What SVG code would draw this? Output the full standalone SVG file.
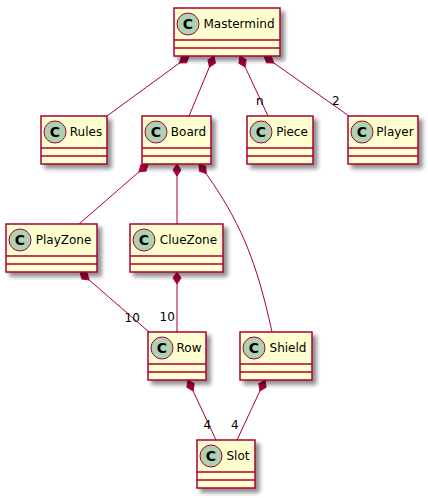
<svg xmlns="http://www.w3.org/2000/svg" width="428" height="498" viewBox="0 0 428 498">
<style>
.box{fill:#FEFECE;stroke:#A80036;stroke-width:1.5;filter:url(#sh)}
.div{stroke:#A80036;stroke-width:1.5}
.circ{fill:#ADD1B2;stroke:#A80036;stroke-width:1}
.cg{font-family:"DejaVu Sans",sans-serif;font-size:14px;font-weight:bold;fill:#000;text-anchor:middle}
.name{font-family:"DejaVu Sans",sans-serif;font-size:12px;fill:#000;text-anchor:middle}
.edge{fill:none;stroke:#A80036;stroke-width:1;marker-start:url(#comp)}
.lbl{font-family:"DejaVu Sans",sans-serif;font-size:12px;fill:#000}
</style>
<defs>
<filter id="sh" x="-20%" y="-20%" width="150%" height="160%">
<feGaussianBlur in="SourceAlpha" stdDeviation="2"/>
<feOffset dx="4" dy="4" result="b"/>
<feComponentTransfer><feFuncA type="linear" slope="0.45"/></feComponentTransfer>
<feMerge><feMergeNode/><feMergeNode in="SourceGraphic"/></feMerge>
</filter>
<marker id="comp" markerUnits="userSpaceOnUse" markerWidth="14" markerHeight="10" viewBox="0 0 14 10" refX="0" refY="5" orient="auto" overflow="visible">
<path d="M0,5 L6,1 L12,5 L6,9 Z" fill="#A80036" stroke="#A80036" stroke-width="1"/>
</marker>
</defs>
<rect width="428" height="498" fill="#FFFFFF"/>

<g id="connectors">
<path class="edge" d="M189,56 L107,116"/>
<path class="edge" d="M214,56 L189,116"/>
<path class="edge" d="M240,56 L268,116"/>
<path class="edge" d="M264,56 L349,116"/>
<path class="edge" d="M148,164 L79,224"/>
<path class="edge" d="M177,164 L177,224"/>
<path class="edge" d="M199,164 C241,220 257,263 272,332"/>
<path class="edge" d="M80,272 L149,332"/>
<path class="edge" d="M177,272 L177,332"/>
<path class="edge" d="M188,380 L216,440"/>
<path class="edge" d="M265,380 L237,440"/>
<text class="lbl" x="256" y="105">n</text>
<text class="lbl" x="332" y="105">2</text>
<text class="lbl" x="124.5" y="322">10</text>
<text class="lbl" x="159.5" y="321">10</text>
<text class="lbl" x="203.5" y="429">4</text>
<text class="lbl" x="231" y="429">4</text>
</g>

<g id="Mastermind">
<rect class="box" x="174" y="8" width="106" height="48"/>
<circle class="circ" cx="188" cy="24" r="11"/>
<text class="cg" x="188" y="29">C</text>
<text class="name" x="239" y="28.2">Mastermind</text>
<line class="div" x1="174" y1="40" x2="280" y2="40"/>
<line class="div" x1="174" y1="48" x2="280" y2="48"/>
</g>

<g id="Rules">
<rect class="box" x="41" y="116" width="66" height="48"/>
<circle class="circ" cx="55" cy="132" r="11"/>
<text class="cg" x="55" y="137">C</text>
<text class="name" x="86" y="136.2">Rules</text>
<line class="div" x1="41" y1="148" x2="107" y2="148"/>
<line class="div" x1="41" y1="156" x2="107" y2="156"/>
</g>

<g id="Board">
<rect class="box" x="142" y="116" width="69" height="48"/>
<circle class="circ" cx="156" cy="132" r="11"/>
<text class="cg" x="156" y="137">C</text>
<text class="name" x="188.5" y="136.2">Board</text>
<line class="div" x1="142" y1="148" x2="211" y2="148"/>
<line class="div" x1="142" y1="156" x2="211" y2="156"/>
</g>

<g id="Piece">
<rect class="box" x="247" y="116" width="66" height="48"/>
<circle class="circ" cx="261" cy="132" r="11"/>
<text class="cg" x="261" y="137">C</text>
<text class="name" x="292" y="136.2">Piece</text>
<line class="div" x1="247" y1="148" x2="313" y2="148"/>
<line class="div" x1="247" y1="156" x2="313" y2="156"/>
</g>

<g id="Player">
<rect class="box" x="348" y="116" width="70" height="48"/>
<circle class="circ" cx="362" cy="132" r="11"/>
<text class="cg" x="362" y="137">C</text>
<text class="name" x="395" y="136.2">Player</text>
<line class="div" x1="348" y1="148" x2="418" y2="148"/>
<line class="div" x1="348" y1="156" x2="418" y2="156"/>
</g>

<g id="PlayZone">
<rect class="box" x="6" y="224" width="91" height="48"/>
<circle class="circ" cx="20" cy="240" r="11"/>
<text class="cg" x="20" y="245">C</text>
<text class="name" x="63.5" y="244.2">PlayZone</text>
<line class="div" x1="6" y1="256" x2="97" y2="256"/>
<line class="div" x1="6" y1="264" x2="97" y2="264"/>
</g>

<g id="ClueZone">
<rect class="box" x="130" y="224" width="93" height="48"/>
<circle class="circ" cx="144" cy="240" r="11"/>
<text class="cg" x="144" y="245">C</text>
<text class="name" x="188.5" y="244.2">ClueZone</text>
<line class="div" x1="130" y1="256" x2="223" y2="256"/>
<line class="div" x1="130" y1="264" x2="223" y2="264"/>
</g>

<g id="Row">
<rect class="box" x="148" y="332" width="58" height="48"/>
<circle class="circ" cx="162" cy="348" r="11"/>
<text class="cg" x="162" y="353">C</text>
<text class="name" x="189" y="352.2">Row</text>
<line class="div" x1="148" y1="364" x2="206" y2="364"/>
<line class="div" x1="148" y1="372" x2="206" y2="372"/>
</g>

<g id="Shield">
<rect class="box" x="240" y="332" width="72" height="48"/>
<circle class="circ" cx="254" cy="348" r="11"/>
<text class="cg" x="254" y="353">C</text>
<text class="name" x="288" y="352.2">Shield</text>
<line class="div" x1="240" y1="364" x2="312" y2="364"/>
<line class="div" x1="240" y1="372" x2="312" y2="372"/>
</g>

<g id="Slot">
<rect class="box" x="197" y="440" width="58" height="48"/>
<circle class="circ" cx="211" cy="456" r="11"/>
<text class="cg" x="211" y="461">C</text>
<text class="name" x="238" y="460.2">Slot</text>
<line class="div" x1="197" y1="472" x2="255" y2="472"/>
<line class="div" x1="197" y1="480" x2="255" y2="480"/>
</g>
</svg>
